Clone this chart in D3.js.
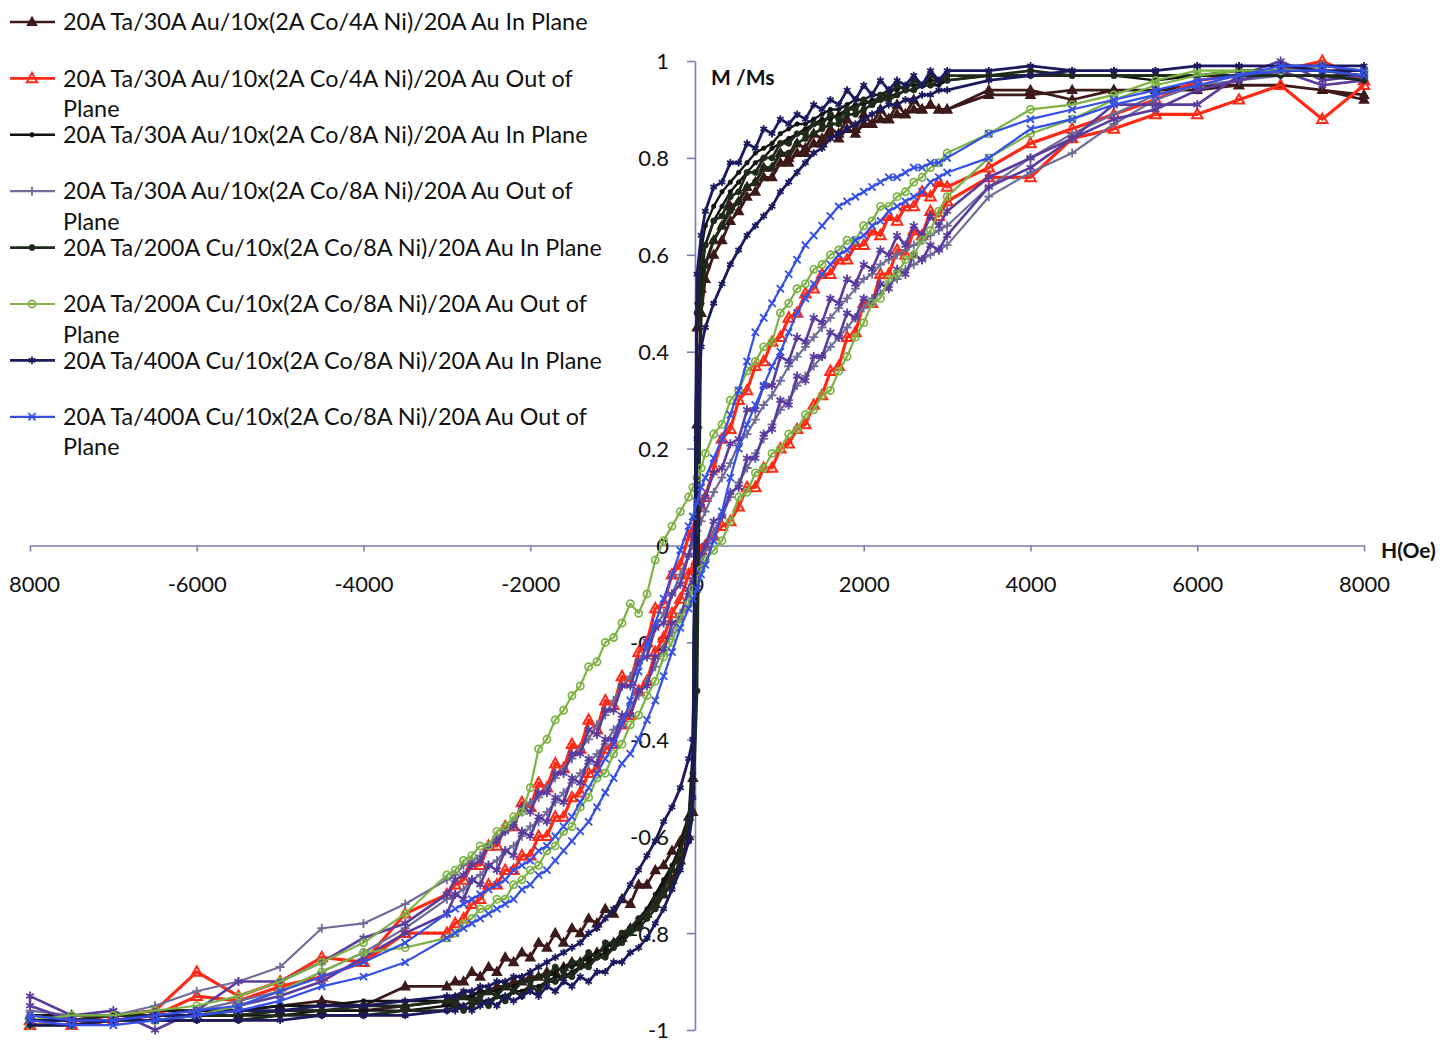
<!DOCTYPE html>
<html>
<head>
<meta charset="utf-8">
<script src="https://cdn.jsdelivr.net/npm/d3@7"></script>
<style>
  body { margin: 0; background: #fff; }
  svg { display: block; }
  text { font-family: Lato, "Open Sans", sans-serif; fill: #111; }
</style>
</head>
<body>
<svg id="chart" width="1447" height="1042"></svg>
<script>
// field grid (Oe), shared by every branch
const fieldOe = [-8000,-7500,-7000,-6500,-6000,-5500,-5000,-4500,-4000,-3500,
  -3000,-2900,-2800,-2700,-2600,-2500,-2400,-2300,-2200,-2100,-2000,-1900,-1800,-1700,-1600,-1500,-1400,-1300,-1200,-1100,
  -1000,-900,-800,-700,-600,-500,-400,-300,-200,-100,
  -50,0,50,
  100,200,300,400,500,600,700,800,900,1000,1100,1200,1300,1400,1500,1600,1700,1800,1900,2000,
  2100,2200,2300,2400,2500,2600,2700,2800,2900,3000,
  3500,4000,4500,5000,5500,6000,6500,7000,7500,8000];

const xTicks = [-8000,-6000,-4000,-2000,0,2000,4000,6000,8000];
const yTicks = [-1,-0.8,-0.6,-0.4,-0.2,0,0.2,0.4,0.6,0.8,1];

// M/Ms, decreasing-field branch (Down) and increasing-field branch (Up), listed in fieldOe order
const au4InDown = [-0.97,-0.97,-0.97,-0.96,-0.96,-0.96,-0.95,-0.94,-0.95,-0.91,
  -0.91,-0.90,-0.90,-0.88,-0.89,-0.87,-0.88,-0.85,-0.86,-0.84,-0.85,-0.82,-0.83,-0.80,-0.82,-0.79,-0.80,-0.77,-0.78,-0.75,
  -0.76,-0.73,-0.74,-0.70,-0.70,-0.67,-0.66,-0.63,-0.61,-0.56,
  -0.48,0.45,0.53,
  0.58,0.63,0.66,0.70,0.71,0.74,0.75,0.78,0.78,0.81,0.80,0.83,0.82,0.85,0.84,0.86,0.85,0.88,0.86,0.89,
  0.87,0.90,0.88,0.91,0.89,0.92,0.90,0.91,0.90,0.90,
  0.94,0.94,0.92,0.94,0.94,0.95,0.95,0.95,0.94,0.92];
const au4InUp = [-0.98,-0.98,-0.97,-0.97,-0.97,-0.97,-0.96,-0.96,-0.96,-0.95,
  -0.94,-0.94,-0.93,-0.93,-0.92,-0.92,-0.91,-0.91,-0.90,-0.90,-0.89,-0.89,-0.88,-0.88,-0.87,-0.86,-0.86,-0.85,-0.84,-0.83,
  -0.82,-0.81,-0.79,-0.78,-0.76,-0.74,-0.72,-0.69,-0.65,-0.60,
  -0.55,0.25,0.48,
  0.55,0.60,0.63,0.67,0.69,0.72,0.73,0.76,0.76,0.79,0.79,0.81,0.81,0.83,0.83,0.85,0.84,0.86,0.85,0.87,
  0.87,0.88,0.88,0.89,0.89,0.90,0.90,0.91,0.90,0.90,
  0.93,0.93,0.94,0.94,0.94,0.94,0.95,0.95,0.94,0.93];

const au4OutDown = [-0.98,-0.98,-0.97,-0.96,-0.88,-0.93,-0.90,-0.85,-0.86,-0.76,
  -0.72,-0.70,-0.69,-0.66,-0.66,-0.62,-0.62,-0.58,-0.58,-0.53,-0.54,-0.49,-0.50,-0.45,-0.46,-0.41,-0.42,-0.36,-0.38,-0.32,
  -0.33,-0.27,-0.28,-0.22,-0.20,-0.13,-0.12,-0.06,-0.04,0.02,
  0.03,0.06,0.08,
  0.10,0.16,0.22,0.24,0.30,0.32,0.37,0.38,0.42,0.43,0.47,0.48,0.52,0.53,0.56,0.56,0.59,0.59,0.62,0.62,
  0.65,0.64,0.68,0.67,0.70,0.70,0.73,0.72,0.75,0.74,
  0.78,0.83,0.86,0.89,0.92,0.96,0.97,0.98,1.00,0.96];
const au4OutUp = [-0.99,-0.99,-0.98,-0.97,-0.93,-0.94,-0.91,-0.89,-0.86,-0.80,
  -0.80,-0.78,-0.77,-0.74,-0.73,-0.70,-0.70,-0.67,-0.67,-0.64,-0.64,-0.60,-0.60,-0.56,-0.56,-0.52,-0.51,-0.47,-0.46,-0.42,
  -0.41,-0.37,-0.35,-0.30,-0.28,-0.22,-0.19,-0.14,-0.11,-0.06,
  -0.05,-0.03,-0.01,
  0.00,0.02,0.04,0.05,0.08,0.12,0.12,0.16,0.16,0.20,0.21,0.24,0.25,0.29,0.31,0.36,0.37,0.43,0.44,0.50,
  0.50,0.56,0.56,0.61,0.60,0.65,0.64,0.69,0.68,0.71,
  0.76,0.76,0.84,0.86,0.89,0.89,0.92,0.95,0.88,0.95];

const au8InDown = [-0.97,-0.97,-0.97,-0.96,-0.96,-0.96,-0.95,-0.95,-0.94,-0.94,
  -0.94,-0.93,-0.93,-0.93,-0.92,-0.92,-0.92,-0.91,-0.91,-0.90,-0.90,-0.89,-0.89,-0.88,-0.87,-0.87,-0.86,-0.85,-0.84,-0.83,
  -0.82,-0.80,-0.79,-0.77,-0.75,-0.72,-0.69,-0.66,-0.62,-0.56,
  -0.42,0.50,0.61,
  0.66,0.70,0.73,0.75,0.77,0.79,0.81,0.82,0.83,0.85,0.86,0.87,0.87,0.88,0.89,0.90,0.90,0.91,0.92,0.92,
  0.93,0.93,0.94,0.94,0.95,0.95,0.95,0.96,0.96,0.96,
  0.97,0.97,0.97,0.97,0.97,0.97,0.97,0.97,0.97,0.97];
const au8InUp = [-0.98,-0.98,-0.98,-0.98,-0.97,-0.97,-0.97,-0.96,-0.96,-0.96,
  -0.95,-0.95,-0.95,-0.94,-0.94,-0.94,-0.93,-0.93,-0.92,-0.92,-0.91,-0.91,-0.90,-0.89,-0.89,-0.88,-0.87,-0.86,-0.85,-0.84,
  -0.83,-0.81,-0.80,-0.78,-0.76,-0.73,-0.70,-0.67,-0.63,-0.58,
  -0.50,-0.10,0.55,
  0.62,0.67,0.70,0.73,0.75,0.77,0.79,0.80,0.82,0.83,0.84,0.85,0.86,0.87,0.88,0.88,0.89,0.90,0.91,0.91,
  0.92,0.92,0.93,0.93,0.94,0.94,0.95,0.95,0.95,0.96,
  0.97,0.97,0.97,0.97,0.96,0.97,0.97,0.97,0.97,0.96];

const au8OutDown = [-0.96,-0.97,-0.97,-0.95,-0.92,-0.90,-0.87,-0.79,-0.78,-0.74,
  -0.69,-0.68,-0.66,-0.65,-0.64,-0.62,-0.60,-0.59,-0.57,-0.55,-0.53,-0.52,-0.50,-0.48,-0.46,-0.44,-0.42,-0.40,-0.37,-0.35,
  -0.32,-0.29,-0.27,-0.24,-0.21,-0.17,-0.14,-0.10,-0.06,-0.02,
  0.00,0.03,0.05,
  0.07,0.11,0.14,0.17,0.21,0.23,0.26,0.29,0.31,0.34,0.37,0.39,0.41,0.43,0.45,0.47,0.49,0.51,0.53,0.55,
  0.56,0.58,0.59,0.60,0.61,0.62,0.63,0.64,0.65,0.66,
  0.74,0.80,0.85,0.89,0.93,0.95,0.96,0.98,0.98,0.97];
const au8OutUp = [-0.97,-0.98,-0.98,-0.97,-0.96,-0.94,-0.92,-0.88,-0.84,-0.79,
  -0.73,-0.72,-0.71,-0.69,-0.68,-0.66,-0.65,-0.63,-0.62,-0.60,-0.58,-0.57,-0.55,-0.53,-0.51,-0.49,-0.47,-0.45,-0.43,-0.41,
  -0.38,-0.36,-0.33,-0.31,-0.28,-0.25,-0.21,-0.18,-0.14,-0.10,
  -0.08,-0.06,-0.04,
  -0.01,0.03,0.06,0.10,0.13,0.16,0.19,0.22,0.25,0.28,0.30,0.33,0.35,0.37,0.39,0.41,0.43,0.45,0.47,0.49,
  0.51,0.52,0.54,0.55,0.57,0.58,0.59,0.60,0.61,0.62,
  0.72,0.77,0.81,0.87,0.92,0.95,0.96,0.97,0.97,0.96];

const cu200InDown = [-0.98,-0.98,-0.97,-0.97,-0.97,-0.97,-0.96,-0.96,-0.95,-0.95,
  -0.94,-0.94,-0.93,-0.94,-0.93,-0.92,-0.93,-0.91,-0.92,-0.90,-0.90,-0.89,-0.89,-0.87,-0.88,-0.86,-0.86,-0.84,-0.85,-0.82,
  -0.82,-0.80,-0.79,-0.77,-0.76,-0.73,-0.71,-0.67,-0.63,-0.57,
  -0.47,0.48,0.58,
  0.62,0.67,0.68,0.72,0.73,0.77,0.77,0.80,0.80,0.83,0.83,0.85,0.85,0.87,0.87,0.89,0.88,0.90,0.90,0.92,
  0.91,0.93,0.93,0.95,0.94,0.96,0.95,0.97,0.96,0.97,
  0.97,0.98,0.97,0.97,0.97,0.97,0.97,0.97,0.97,0.96];
const cu200InUp = [-0.99,-0.99,-0.98,-0.98,-0.98,-0.98,-0.97,-0.97,-0.97,-0.96,
  -0.96,-0.95,-0.96,-0.95,-0.94,-0.95,-0.93,-0.94,-0.92,-0.93,-0.91,-0.92,-0.90,-0.90,-0.89,-0.89,-0.87,-0.87,-0.85,-0.85,
  -0.83,-0.82,-0.80,-0.79,-0.77,-0.75,-0.72,-0.70,-0.66,-0.61,
  -0.55,-0.30,0.50,
  0.58,0.63,0.66,0.69,0.71,0.74,0.75,0.78,0.78,0.81,0.81,0.83,0.84,0.85,0.86,0.87,0.87,0.89,0.89,0.90,
  0.91,0.92,0.92,0.93,0.94,0.94,0.95,0.95,0.96,0.96,
  0.97,0.97,0.97,0.97,0.97,0.97,0.98,0.98,0.98,0.97];

const cu200OutDown = [-0.98,-0.97,-0.97,-0.96,-0.95,-0.93,-0.90,-0.86,-0.82,-0.76,
  -0.68,-0.67,-0.65,-0.64,-0.62,-0.62,-0.59,-0.58,-0.56,-0.55,-0.50,-0.42,-0.40,-0.36,-0.34,-0.31,-0.29,-0.25,-0.24,-0.20,
  -0.19,-0.16,-0.12,-0.14,-0.10,-0.03,0.01,0.04,0.07,0.10,
  0.12,0.14,0.16,
  0.19,0.23,0.25,0.30,0.32,0.36,0.38,0.41,0.42,0.48,0.50,0.53,0.54,0.57,0.58,0.60,0.61,0.63,0.63,0.66,
  0.67,0.70,0.70,0.72,0.73,0.75,0.76,0.78,0.79,0.81,
  0.85,0.90,0.91,0.93,0.96,0.98,0.98,0.98,0.99,0.98];
const cu200OutUp = [-0.99,-0.99,-0.98,-0.98,-0.97,-0.95,-0.92,-0.88,-0.84,-0.83,
  -0.81,-0.80,-0.78,-0.77,-0.75,-0.75,-0.73,-0.73,-0.70,-0.69,-0.67,-0.66,-0.63,-0.62,-0.59,-0.58,-0.54,-0.52,-0.48,-0.47,
  -0.43,-0.41,-0.37,-0.35,-0.31,-0.28,-0.23,-0.20,-0.15,-0.12,
  -0.09,-0.07,-0.05,
  -0.03,-0.01,0.01,0.05,0.10,0.11,0.15,0.16,0.19,0.20,0.23,0.24,0.27,0.28,0.31,0.32,0.36,0.39,0.43,0.46,
  0.50,0.51,0.55,0.56,0.59,0.60,0.63,0.65,0.69,0.72,
  0.80,0.85,0.88,0.92,0.95,0.97,0.98,0.98,0.99,0.98];

const cu400InDown = [-0.99,-0.99,-0.98,-0.98,-0.98,-0.98,-0.98,-0.97,-0.97,-0.97,
  -0.96,-0.96,-0.95,-0.96,-0.95,-0.94,-0.95,-0.93,-0.94,-0.93,-0.92,-0.93,-0.91,-0.92,-0.90,-0.91,-0.89,-0.90,-0.88,-0.88,
  -0.86,-0.86,-0.84,-0.83,-0.81,-0.78,-0.75,-0.71,-0.67,-0.61,
  -0.52,0.56,0.64,
  0.69,0.74,0.75,0.79,0.79,0.83,0.82,0.86,0.85,0.88,0.87,0.89,0.88,0.91,0.90,0.92,0.91,0.94,0.92,0.95,
  0.93,0.96,0.94,0.96,0.95,0.97,0.95,0.98,0.96,0.98,
  0.98,0.99,0.98,0.98,0.98,0.99,0.99,0.99,0.99,0.99];
const cu400InUp = [-0.98,-0.98,-0.98,-0.97,-0.97,-0.96,-0.96,-0.95,-0.95,-0.94,
  -0.93,-0.93,-0.92,-0.92,-0.91,-0.91,-0.90,-0.90,-0.89,-0.89,-0.88,-0.87,-0.86,-0.85,-0.84,-0.83,-0.82,-0.80,-0.79,-0.77,
  -0.75,-0.73,-0.70,-0.67,-0.64,-0.61,-0.57,-0.54,-0.50,-0.44,
  -0.40,0.22,0.41,
  0.45,0.50,0.54,0.58,0.61,0.64,0.66,0.68,0.70,0.73,0.75,0.77,0.79,0.81,0.82,0.84,0.85,0.86,0.87,0.88,
  0.89,0.90,0.91,0.91,0.92,0.92,0.93,0.93,0.94,0.94,
  0.96,0.97,0.98,0.98,0.98,0.99,0.99,0.99,0.98,0.98];

const cu400OutDown = [-0.97,-0.98,-0.98,-0.97,-0.96,-0.95,-0.92,-0.89,-0.86,-0.82,
  -0.76,-0.75,-0.74,-0.73,-0.72,-0.71,-0.70,-0.69,-0.67,-0.66,-0.65,-0.63,-0.62,-0.60,-0.58,-0.56,-0.53,-0.50,-0.47,-0.44,
  -0.41,-0.37,-0.32,-0.26,-0.20,-0.16,-0.11,-0.06,-0.01,0.04,
  0.06,0.09,0.12,
  0.14,0.18,0.22,0.27,0.32,0.38,0.44,0.47,0.50,0.53,0.56,0.59,0.62,0.64,0.66,0.68,0.70,0.71,0.72,0.73,
  0.74,0.75,0.76,0.76,0.77,0.78,0.78,0.79,0.79,0.80,
  0.85,0.88,0.90,0.92,0.94,0.96,0.97,0.99,0.99,0.98];
const cu400OutUp = [-0.98,-0.99,-0.99,-0.98,-0.97,-0.96,-0.94,-0.91,-0.89,-0.86,
  -0.81,-0.80,-0.79,-0.78,-0.77,-0.76,-0.75,-0.74,-0.73,-0.71,-0.70,-0.68,-0.67,-0.65,-0.63,-0.61,-0.59,-0.57,-0.54,-0.51,
  -0.48,-0.45,-0.43,-0.40,-0.36,-0.32,-0.27,-0.22,-0.17,-0.13,
  -0.11,-0.09,-0.06,
  -0.04,0.01,0.07,0.14,0.20,0.25,0.29,0.33,0.37,0.40,0.44,0.48,0.51,0.54,0.56,0.58,0.60,0.61,0.63,0.64,
  0.66,0.67,0.69,0.70,0.71,0.72,0.73,0.75,0.76,0.77,
  0.80,0.86,0.88,0.91,0.93,0.95,0.97,0.98,0.98,0.97];

// a further out-of-plane loop (purple) drawn in the figure without a legend entry
const extraOutDown = [-0.93,-0.97,-0.96,-1.00,-0.96,-0.90,-0.90,-0.86,-0.81,-0.78,
  -0.72,-0.69,-0.68,-0.66,-0.65,-0.62,-0.61,-0.59,-0.58,-0.54,-0.55,-0.51,-0.51,-0.47,-0.47,-0.43,-0.43,-0.38,-0.39,-0.34,
  -0.34,-0.29,-0.29,-0.24,-0.23,-0.17,-0.16,-0.10,-0.08,-0.02,
  0.02,0.05,0.08,
  0.10,0.15,0.16,0.21,0.22,0.28,0.28,0.33,0.33,0.39,0.38,0.43,0.42,0.47,0.46,0.51,0.50,0.55,0.54,0.58,
  0.57,0.61,0.60,0.64,0.62,0.66,0.64,0.68,0.66,0.69,
  0.76,0.80,0.84,0.91,0.91,0.91,0.97,1.00,0.96,0.97];
const extraOutUp = [-0.95,-0.98,-0.98,-0.98,-0.97,-0.95,-0.93,-0.90,-0.85,-0.80,
  -0.76,-0.72,-0.73,-0.69,-0.70,-0.66,-0.67,-0.63,-0.64,-0.59,-0.60,-0.56,-0.57,-0.52,-0.53,-0.48,-0.49,-0.44,-0.45,-0.40,
  -0.40,-0.35,-0.35,-0.30,-0.29,-0.23,-0.22,-0.16,-0.15,-0.09,
  -0.07,-0.04,-0.02,
  0.00,0.05,0.06,0.11,0.12,0.18,0.18,0.23,0.24,0.30,0.29,0.35,0.34,0.39,0.39,0.44,0.43,0.48,0.47,0.51,
  0.50,0.54,0.53,0.57,0.56,0.60,0.59,0.62,0.61,0.64,
  0.74,0.78,0.84,0.88,0.90,0.94,0.96,0.98,0.95,0.96];

const seriesNames = [
  "20A Ta/30A Au/10x(2A Co/4A Ni)/20A Au In Plane",
  "20A Ta/30A Au/10x(2A Co/4A Ni)/20A Au Out of Plane",
  "20A Ta/30A Au/10x(2A Co/8A Ni)/20A Au In Plane",
  "20A Ta/30A Au/10x(2A Co/8A Ni)/20A Au Out of Plane",
  "20A Ta/200A Cu/10x(2A Co/8A Ni)/20A Au In Plane",
  "20A Ta/200A Cu/10x(2A Co/8A Ni)/20A Au Out of Plane",
  "20A Ta/400A Cu/10x(2A Co/8A Ni)/20A Au In Plane",
  "20A Ta/400A Cu/10x(2A Co/8A Ni)/20A Au Out of Plane"
];

// drawing order: later series are painted on top
const series = [
  { name: seriesNames[0], down: au4InDown, up: au4InUp, color: "#3d1a1a", width: 2.8, marker: "triFill", size: 4.5, legend: 0 },
  { name: seriesNames[1], down: au4OutDown, up: au4OutUp, color: "#ff2a16", width: 3.2, marker: "triOpen", size: 5.5, legend: 1 },
  { name: seriesNames[2], down: au8InDown, up: au8InUp, color: "#121212", width: 2.4, marker: "dot", size: 2.2, legend: 2 },
  { name: seriesNames[3], down: au8OutDown, up: au8OutUp, color: "#6e6c98", width: 2.2, marker: "plus", size: 4.5, legend: 3 },
  { name: "purple", down: extraOutDown, up: extraOutUp, color: "#5a3c9e", width: 2.6, marker: "star", size: 4.5, legend: -1 },
  { name: seriesNames[4], down: cu200InDown, up: cu200InUp, color: "#1e2b1b", width: 2.8, marker: "circleFill", size: 3, legend: 4 },
  { name: seriesNames[5], down: cu200OutDown, up: cu200OutUp, color: "#7db244", width: 2.2, marker: "circleOpen", size: 3.6, legend: 5 },
  { name: seriesNames[6], down: cu400InDown, up: cu400InUp, color: "#1c1a5e", width: 2.8, marker: "star", size: 3.8, legend: 6 },
  { name: seriesNames[7], down: cu400OutDown, up: cu400OutUp, color: "#3550e4", width: 2.2, marker: "cross", size: 3.6, legend: 7 }
];

const svg = d3.select("#chart");
const x = d3.scaleLinear().domain([-8000, 8000]).range([30, 1364]);
const y = d3.scaleLinear().domain([-1, 1]).range([1030, 61]);
const axisColor = "#7c7cae";

function fmt(v) {
  if (Math.abs(v) < 1e-9) return "0";
  return String(+v.toFixed(1));
}

// the figure is cropped just left of the first tick label
svg.append("clipPath").attr("id", "crop")
  .append("rect").attr("x", 9).attr("y", 0).attr("width", 1438).attr("height", 1042);

// axes
const xAxis = svg.append("g")
  .attr("clip-path", "url(#crop)")
  .append("g")
  .attr("transform", `translate(0,${y(0)})`)
  .call(d3.axisBottom(x).tickValues(xTicks).tickSize(6).tickSizeOuter(0).tickPadding(25).tickFormat(fmt));
const yAxis = svg.append("g")
  .attr("transform", `translate(${x(0) - 2},0)`)
  .call(d3.axisLeft(y).tickValues(yTicks).tickSize(8).tickSizeOuter(0).tickPadding(18).tickFormat(fmt));

[xAxis, yAxis].forEach(g => {
  g.select(".domain").attr("stroke", axisColor).attr("stroke-width", 1.6);
  g.selectAll(".tick line").attr("stroke", axisColor).attr("stroke-width", 1.6);
  g.selectAll(".tick text").attr("font-size", 22).attr("font-family", "Lato, 'Open Sans', sans-serif").attr("fill", "#111");
});
yAxis.selectAll(".tick text").attr("dy", "0.36em");

svg.append("text").attr("x", 711).attr("y", 85)
  .attr("font-size", 21).attr("font-weight", "bold").text("M /Ms");
svg.append("text").attr("x", 1381).attr("y", 558)
  .attr("font-size", 21).attr("font-weight", "bold").text("H(Oe)");

// marker shapes
function markerPath(type, s) {
  switch (type) {
    case "triFill":
    case "triOpen":
      return `M0,${-s}L${s * 0.95},${s * 0.7}L${-s * 0.95},${s * 0.7}Z`;
    case "plus":
      return `M${-s},0H${s}M0,${-s}V${s}`;
    case "cross":
      return `M${-s},${-s}L${s},${s}M${-s},${s}L${s},${-s}`;
    case "star": {
      const a = s * 0.87, b = s * 0.5;
      return `M0,${-s}V${s}M${-a},${-b}L${a},${b}M${-a},${b}L${a},${-b}`;
    }
    default:
      return null;
  }
}

function drawMarkers(g, pts, sr) {
  const t = sr.marker;
  if (t === "dot" || t === "circleFill" || t === "circleOpen") {
    g.selectAll("circle").data(pts).join("circle")
      .attr("cx", d => x(d[0])).attr("cy", d => y(d[1])).attr("r", sr.size)
      .attr("fill", t === "circleOpen" ? "none" : sr.color)
      .attr("stroke", sr.color).attr("stroke-width", t === "circleOpen" ? 1.7 : 0.8);
  } else {
    const p = markerPath(t, sr.size);
    g.selectAll("path.mk").data(pts).join("path").attr("class", "mk")
      .attr("transform", d => `translate(${x(d[0])},${y(d[1])})`)
      .attr("d", p)
      .attr("fill", t === "triFill" ? sr.color : "none")
      .attr("stroke", sr.color)
      .attr("stroke-width", t === "triOpen" ? 2 : 1.8);
  }
}

const line = d3.line().x(d => x(d[0])).y(d => y(d[1]));
const plot = svg.append("g");

series.forEach(sr => {
  const downPts = fieldOe.map((h, i) => [h, sr.down[i]]).reverse();
  const upPts = fieldOe.map((h, i) => [h, sr.up[i]]);
  const pts = downPts.concat(upPts);
  const g = plot.append("g");
  g.append("path").attr("d", line(pts))
    .attr("fill", "none").attr("stroke", sr.color)
    .attr("stroke-width", sr.width).attr("stroke-linejoin", "round");
  drawMarkers(g.append("g"), pts, sr);
});

// legend
const legend = svg.append("g");
const probe = legend.append("text").attr("font-size", 100).text(seriesNames[0]);
const fontSize = 100 * 525 / probe.node().getComputedTextLength();
probe.remove();

series.filter(sr => sr.legend >= 0).forEach(sr => {
  const cy = 22 + sr.legend * 56.4;
  const row = legend.append("g");
  row.append("line").attr("x1", 10).attr("x2", 55).attr("y1", cy).attr("y2", cy)
    .attr("stroke", sr.color).attr("stroke-width", Math.min(sr.width, 2.6));
  drawMarkers(row.append("g"), [[x.invert(32), y.invert(cy)]], sr);
  const lines = sr.name.endsWith(" Plane") && sr.name.includes("Out of")
    ? [sr.name.slice(0, -6), "Plane"] : [sr.name];
  lines.forEach((t, k) => {
    row.append("text").attr("x", 63).attr("y", cy + k * 30.5)
      .attr("dy", "0.35em").attr("font-size", fontSize).text(t);
  });
});
</script>
</body>
</html>
